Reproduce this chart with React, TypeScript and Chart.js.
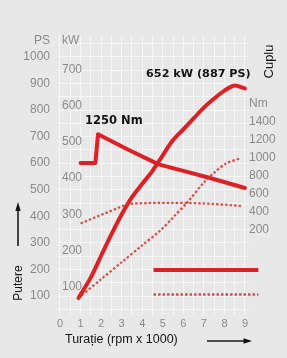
import React, { useEffect, useRef } from 'react';
import { Chart, registerables } from 'chart.js';

Chart.register(...registerables);

// ---------- data ----------
const RPM_TICKS = [0, 1, 2, 3, 4, 5, 6, 7, 8, 9];
const RPM_GRID = [0, 0.5, 1, 1.5, 2, 2.5, 3, 3.5, 4, 4.5, 5, 5.5, 6, 6.5, 7, 7.5, 8, 8.5, 9];
const PS_TICKS = [100, 200, 300, 400, 500, 600, 700, 800, 900, 1000];
const KW_TICKS = [100, 200, 300, 400, 500, 600, 700];
const NM_TICKS = [200, 400, 600, 800, 1000, 1200, 1400];
const PS_UNIT_AT = 1060;
const KW_UNIT_AT = 780;
const NM_UNIT_AT = 1600;

// main engine: power (kW) vs rpm x 1000
const powerRpm = [0.9, 1.5, 2, 2.5, 3, 3.5, 4, 4.5, 5, 5.5, 6, 6.5, 7, 7.5, 8, 8.5, 9];
const powerKw = [68, 125, 185, 244, 299, 347, 384, 420, 463, 505, 535, 565, 595, 620, 642, 656, 648];

// main engine: torque (Nm)
const torqueRpm = [1.0, 1.72, 1.85, 3.3, 4.8, 6.0, 7.3, 9.0];
const torqueNm = [944, 944, 1265, 1095, 930, 857, 778, 667];

// comparison engine (dashed): power (kW)
const cmpPowerRpm = [0.9, 2, 3, 4, 4.9, 5.5, 6.2, 7.0, 7.5, 8.1, 8.8];
const cmpPowerKw = [68, 120, 167, 214, 256, 291, 333, 388, 415, 441, 455];

// comparison engine (dashed): torque (Nm)
const cmpTorqueRpm = [1.0, 2, 3.2, 3.6, 4.5, 6, 7, 8, 8.8];
const cmpTorqueNm = [272, 368, 482, 495, 502, 502, 496, 482, 468];

// legend sample strokes (PS scale)
const legendRpm = [4.55, 9.65];
const legendSolidPs = [198, 198];
const legendDashedPs = [106, 106];

const PEAK_TORQUE_LABEL = '1250 Nm';
const PEAK_POWER_LABEL = '652 kW (887 PS)';
const Y_TITLE = 'Putere';
const Y2_TITLE = 'Cuplu';
const X_TITLE = 'Turație (rpm x 1000)';

// ---------- scale ranges ----------
const PS_MIN = 28.6;
const PS_MAX = 1082.4;
const PS_PER_KW = 1.36;
const NM_MIN = -744;
const NM_MAX = 2367;
const RPM_MIN = -0.097;
const RPM_MAX = 9.195;

const RED = 'rgb(222, 32, 36)';
const RED_DASH = 'rgba(218, 52, 48, 0.88)';
const TICK_COLOR = '#8a8a8a';
const SANS = "'Liberation Sans', Arial, sans-serif";

const pts = (xs: number[], ys: number[]) => xs.map((x, i) => ({ x, y: ys[i] }));

const decorPlugin = {
  id: 'decor',
  afterDraw(chart: any) {
    const ctx = chart.ctx;
    const x = chart.scales.x;
    const kw = chart.scales.kw;
    const nm = chart.scales.nm;
    ctx.save();
    ctx.fillStyle = '#141414';
    ctx.strokeStyle = '#1a1a1a';

    // Putere (rotated) + up arrow
    ctx.save();
    ctx.translate(18.5, 283);
    ctx.rotate(-Math.PI / 2);
    ctx.font = `12px ${SANS}`;
    ctx.textAlign = 'center';
    ctx.textBaseline = 'middle';
    ctx.fillText(Y_TITLE, 0, 0);
    ctx.restore();
    ctx.lineWidth = 1.6;
    ctx.beginPath();
    ctx.moveTo(18, 246);
    ctx.lineTo(18, 208);
    ctx.stroke();
    ctx.beginPath();
    ctx.moveTo(18, 202);
    ctx.lineTo(15.3, 211);
    ctx.lineTo(20.7, 211);
    ctx.closePath();
    ctx.fill();

    // Cuplu (rotated)
    ctx.save();
    ctx.translate(269, 61.5);
    ctx.rotate(-Math.PI / 2);
    ctx.font = `13px ${SANS}`;
    ctx.textAlign = 'center';
    ctx.textBaseline = 'middle';
    ctx.fillText(Y2_TITLE, 0, 0);
    ctx.restore();

    // x title + right arrow
    ctx.font = `12.5px ${SANS}`;
    ctx.textAlign = 'left';
    ctx.textBaseline = 'alphabetic';
    ctx.fillText(X_TITLE, 65, 343);
    ctx.beginPath();
    ctx.moveTo(207, 341);
    ctx.lineTo(246, 341);
    ctx.stroke();
    ctx.beginPath();
    ctx.moveTo(252, 341);
    ctx.lineTo(243.5, 338.3);
    ctx.lineTo(243.5, 343.7);
    ctx.closePath();
    ctx.fill();

    // annotations
    ctx.font = `bold 11.5px 'DejaVu Sans', sans-serif`;
    ctx.textBaseline = 'middle';
    const tx = x.getPixelForValue(torqueRpm[2]);
    const ty = nm.getPixelForValue(torqueNm[2]);
    ctx.textAlign = 'left';
    ctx.fillText(PEAK_TORQUE_LABEL, tx - 13, ty - 13);
    ctx.font = `bold 11.2px 'DejaVu Sans', sans-serif`;
    const pi = powerKw.indexOf(Math.max(...powerKw));
    const px = x.getPixelForValue(powerRpm[pi]);
    const py = kw.getPixelForValue(powerKw[pi]);
    ctx.textAlign = 'right';
    ctx.fillText(PEAK_POWER_LABEL, px + 16, py - 11);
    ctx.restore();
  },
};

export default function App() {
  const ref = useRef<HTMLCanvasElement | null>(null);
  useEffect(() => {
    if (!ref.current) return;
    const solid = { borderColor: RED, borderWidth: 4, pointRadius: 0, fill: false, borderCapStyle: 'round', borderJoinStyle: 'round' };
    const dashed = { borderColor: RED_DASH, borderWidth: 2.2, borderDash: [2.5, 2], pointRadius: 0, fill: false };
    const chart = new Chart(ref.current, {
      type: 'line',
      data: {
        datasets: [
          { ...dashed, data: pts(cmpTorqueRpm, cmpTorqueNm), yAxisID: 'nm' },
          { ...dashed, data: pts(cmpPowerRpm, cmpPowerKw), yAxisID: 'kw', tension: 0.3 },
          { ...solid, data: pts(torqueRpm, torqueNm), yAxisID: 'nm' },
          { ...solid, data: pts(powerRpm, powerKw), yAxisID: 'kw', tension: 0.3 },
          { ...solid, borderCapStyle: 'butt', data: pts(legendRpm, legendSolidPs), yAxisID: 'ps', clip: false },
          { ...dashed, borderWidth: 2.6, data: pts(legendRpm, legendDashedPs), yAxisID: 'ps', clip: false },
        ] as any,
      },
      options: {
        responsive: false,
        animation: false,
        layout: { padding: { top: 35, left: 0, right: 0, bottom: 0 } },
        plugins: { legend: { display: false }, tooltip: { enabled: false }, title: { display: false } },
        scales: {
          x: {
            type: 'linear',
            min: RPM_MIN,
            max: RPM_MAX,
            afterBuildTicks: (s: any) => { s.ticks = RPM_GRID.map((v) => ({ value: v })); },
            afterFit: (s: any) => { s.height = 43; },
            ticks: {
              autoSkip: false,
              maxRotation: 0,
              padding: 2,
              color: TICK_COLOR,
              font: { family: SANS, size: 11 },
              callback: (v: any) => (RPM_TICKS.includes(Number(v)) ? String(v) : ''),
            },
            grid: { color: 'rgba(255,255,255,0.6)', drawTicks: false, lineWidth: 1 },
            border: { display: false },
          },
          ps: {
            axis: 'y',
            position: 'left',
            weight: 2,
            min: PS_MIN,
            max: PS_MAX,
            afterBuildTicks: (s: any) => { s.ticks = [...PS_TICKS, PS_UNIT_AT].map((v) => ({ value: v })); },
            afterFit: (s: any) => { s.width = 58; },
            ticks: {
              padding: 8,
              crossAlign: 'near',
              color: TICK_COLOR,
              font: { family: SANS, size: 12 },
              callback: (v: any) => (Number(v) === PS_UNIT_AT ? 'PS' : String(v)),
            },
            grid: { display: false, drawTicks: false },
            border: { display: false },
          },
          kw: {
            axis: 'y',
            position: 'left',
            weight: 1,
            min: PS_MIN / PS_PER_KW,
            max: PS_MAX / PS_PER_KW,
            afterBuildTicks: (s: any) => { s.ticks = [...KW_TICKS, KW_UNIT_AT].map((v) => ({ value: v })); },
            afterFit: (s: any) => { s.width = 0; },
            ticks: {
              mirror: true,
              padding: 4,
              crossAlign: 'near',
              color: TICK_COLOR,
              font: { family: SANS, size: 12 },
              callback: (v: any) => (Number(v) === KW_UNIT_AT ? 'kW' : String(v)),
            },
            grid: { display: false, drawTicks: false },
            border: { display: false },
          },
          yg: {
            axis: 'y',
            position: 'left',
            weight: 0,
            min: PS_MIN,
            max: PS_MAX,
            afterBuildTicks: (s: any) => {
              const t = [];
              for (let v = 50; v <= 1050; v += 50) t.push({ value: v });
              s.ticks = t;
            },
            afterFit: (s: any) => { s.width = 0; },
            ticks: { display: false },
            grid: { color: 'rgba(255,255,255,0.6)', drawTicks: false, lineWidth: 1 },
            border: { display: false },
          },
          nm: {
            axis: 'y',
            position: 'right',
            min: NM_MIN,
            max: NM_MAX,
            afterBuildTicks: (s: any) => { s.ticks = [...NM_TICKS, NM_UNIT_AT].map((v) => ({ value: v })); },
            afterFit: (s: any) => { s.width = 38; },
            ticks: {
              padding: 0,
              crossAlign: 'near',
              color: TICK_COLOR,
              font: { family: SANS, size: 12 },
              callback: (v: any) => (Number(v) === NM_UNIT_AT ? 'Nm' : String(v)),
            },
            grid: { display: false, drawTicks: false },
            border: { display: false },
          },
        },
      } as any,
      plugins: [decorPlugin],
    });
    return () => chart.destroy();
  }, []);

  return (
    <div style={{ position: 'fixed', left: 0, top: 0, width: 287, height: 358, background: '#e8e8e8' }}>
      <canvas ref={ref} width={287} height={358} style={{ display: 'block', width: 287, height: 358 }} />
    </div>
  );
}
